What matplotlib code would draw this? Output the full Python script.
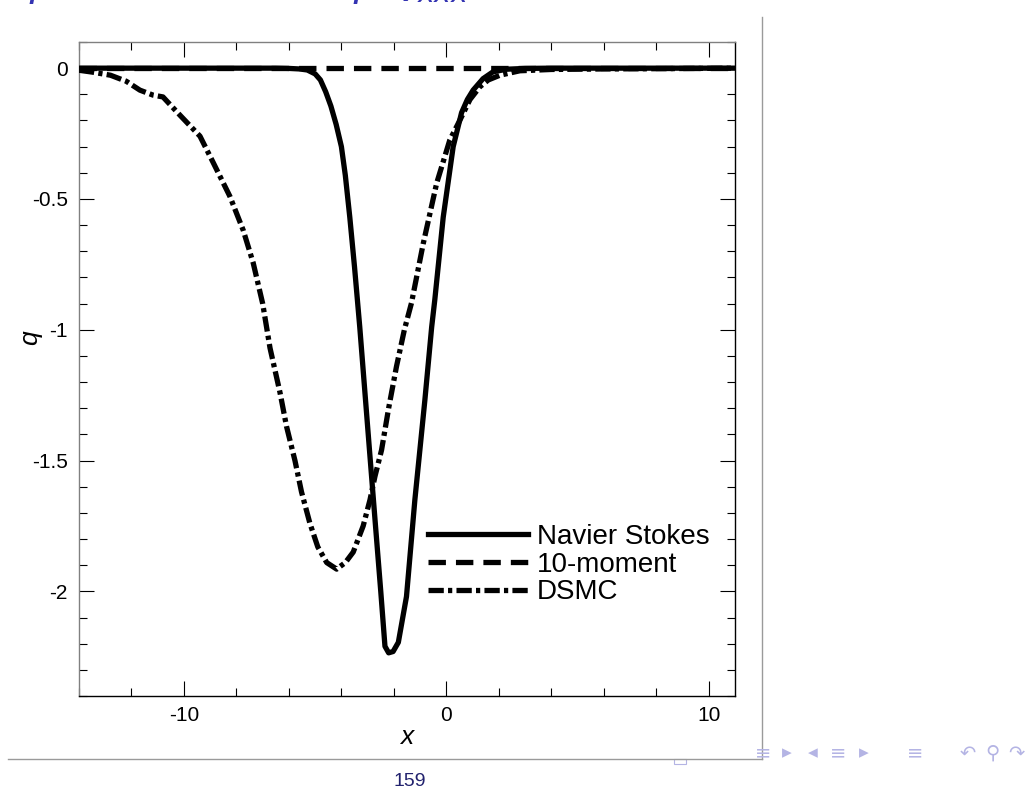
import matplotlib
matplotlib.use("Agg")
import matplotlib.pyplot as plt
from matplotlib.ticker import MultipleLocator, FixedLocator, FixedFormatter
from matplotlib.lines import Line2D
from matplotlib.patches import Rectangle

plt.rcParams['axes.unicode_minus'] = False

# ---------------- data ----------------
ns_x = [-14, -8, -6.5, -6.0, -5.6, -5.3, -5.0, -4.8, -4.6, -4.4, -4.2, -4.0,
        -3.85, -3.68, -3.50, -3.30, -2.93, -2.70, -2.50, -2.34, -2.20, -2.03,
        -1.83, -1.52, -1.20, -1.01, -0.82, -0.56, -0.44, -0.12, 0.26, 0.58,
        0.80, 1.02, 1.40, 1.78, 2.3, 3.0, 4.0, 11]
ns_q = [0, 0, 0, -0.001, -0.003, -0.007, -0.022, -0.045, -0.090, -0.145, -0.215, -0.30,
        -0.41, -0.57, -0.76, -0.99, -1.46, -1.75, -2.00, -2.21, -2.235, -2.23,
        -2.195, -2.02, -1.65, -1.46, -1.27, -0.99, -0.885, -0.57, -0.30, -0.17,
        -0.12, -0.084, -0.040, -0.014, -0.004, -0.001, 0, 0]

tm_x = [-14, -6, -2, 2, 11]
tm_q = [0, 0, 0, 0, 0]

ds_x = [-14, -13.5, -12.8, -12.2, -11.68, -11.18, -10.8, -10.15, -9.39, -8.89,
        -8.25, -7.74, -7.36, -7.0, -6.72, -6.34, -6.09, -5.77, -5.52, -5.2,
        -4.9, -4.56, -4.18, -4.12, -3.85, -3.55, -3.17, -2.91, -2.72, -2.47,
        -2.2, -1.9, -1.6, -1.33, -0.88, -0.37, 0.13, 0.51, 0.9, 1.28, 1.6,
        2.04, 2.8, 4.0, 6.0, 8.0, 11]
ds_q = [-0.008, -0.015, -0.027, -0.05, -0.084, -0.103, -0.11, -0.18, -0.26, -0.36,
        -0.49, -0.62, -0.745, -0.90, -1.07, -1.24, -1.37, -1.50, -1.62, -1.74,
        -1.83, -1.89, -1.915, -1.91, -1.89, -1.85, -1.75, -1.65, -1.56, -1.46,
        -1.30, -1.14, -1.00, -0.898, -0.67, -0.44, -0.275, -0.20, -0.12, -0.071,
        -0.045, -0.027, -0.01, -0.005, -0.003, -0.002, 0]

series_labels = ["Navier Stokes", "10-moment", "DSMC"]
xtick_vals = [-10, 0, 10]
xtick_labels = ["-10", "0", "10"]
ytick_vals = [0, -0.5, -1, -1.5, -2]
ytick_labels = ["0", "-0.5", "-1", "-1.5", "-2"]
page_number = "159"

# ---------------- figure ----------------
W, H = 1029, 792
fig = plt.figure(figsize=(W / 100, H / 100), dpi=100)

def px(x, y):
    return x / W, 1 - y / H

L, R, T, B = 79, 735, 42, 696
ax = fig.add_axes([L / W, 1 - B / H, (R - L) / W, (B - T) / H])

lw = 3.8
ax.plot(tm_x, tm_q, color='black', lw=lw, linestyle=(0, (3.3, 1.9)),
        label=series_labels[1], zorder=2)
ax.plot(ds_x, ds_q, color='black', lw=lw, linestyle=(0, (2.9, 0.8, 0.8, 0.8)),
        label=series_labels[2], zorder=3)
ax.plot(ns_x, ns_q, color='black', lw=lw, linestyle='-',
        label=series_labels[0], zorder=4)

ax.set_xlim(-14, 11)
ax.set_ylim(-2.4, 0.1)

ax.xaxis.set_major_locator(FixedLocator(xtick_vals))
ax.xaxis.set_major_formatter(FixedFormatter(xtick_labels))
ax.xaxis.set_minor_locator(MultipleLocator(2))
ax.yaxis.set_major_locator(FixedLocator(ytick_vals))
ax.yaxis.set_major_formatter(FixedFormatter(ytick_labels))
ax.yaxis.set_minor_locator(MultipleLocator(0.1))

ax.tick_params(which='both', direction='in', top=True, right=True,
               labelsize=15, width=0.8, colors='black')
ax.tick_params(which='major', length=10.5, pad=7)
ax.tick_params(which='minor', length=5.8)
ax.tick_params(axis='y', which='major', pad=8)
for t in ax.get_xticklabels() + ax.get_yticklabels():
    t.set_fontfamily(['Liberation Sans', 'DejaVu Sans'])

for s in ['bottom', 'right']:
    ax.spines[s].set_color('black')
    ax.spines[s].set_linewidth(1.0)
for s in ['left', 'top']:
    ax.spines[s].set_color('#808080')
    ax.spines[s].set_linewidth(1.0)

ax.set_xlabel("x", fontsize=19, fontstyle='italic',
              family=['Liberation Sans', 'DejaVu Sans'])
ax.set_ylabel("q", fontsize=19, fontstyle='italic',
              family=['Liberation Sans', 'DejaVu Sans'])
ax.xaxis.set_label_coords(0.5, -(737 - B) / (B - T))
ax.yaxis.set_label_coords((30 - L) / (R - L), (B - 338) / (B - T))
ax.yaxis.label.set_verticalalignment('center')
ax.xaxis.label.set_verticalalignment('center')

handles, labels = ax.get_legend_handles_labels()
order = [2, 0, 1]
leg = ax.legend([handles[i] for i in order], [labels[i] for i in order],
                loc='upper left',
                bbox_to_anchor=((428 - L) / (R - L), (B - 524) / (B - T)),
                frameon=False, borderpad=0, borderaxespad=0,
                handlelength=3.6, handletextpad=0.32, labelspacing=0.06,
                prop={'family': ['Liberation Sans', 'DejaVu Sans'], 'size': 20})

# ---------------- slide decorations ----------------
blue = '#3333b2'
fig.text(*px(14, -4), "$q$", color=blue, fontsize=29, va='baseline', ha='left')
fig.text(*px(338, -4), r"$q\;\;Q_{xxx}$", color=blue, fontsize=29,
         va='baseline', ha='left')

grey = '#9a9a9a'
fig.add_artist(Line2D([762 / W, 762 / W], [1 - 17 / H, 1 - 759 / H],
                      color=grey, lw=1.0))
fig.add_artist(Line2D([8 / W, 762 / W], [1 - 759 / H, 1 - 759 / H],
                      color=grey, lw=1.0))

fig.text(*px(410, 781), page_number, color='#22226e', fontsize=14,
         ha='center', va='center', family=['Liberation Sans', 'DejaVu Sans'])

nav = '#b4b4e4'
fig.add_artist(Rectangle(px(674, 764), 12 / W, 5 / H, fill=False,
                         edgecolor=nav, lw=0.8))
nav_items = [(763, "≡"), (787, "▸"), (813, "◂"), (838, "≡"), (864, "▸"),
             (915, "≡"), (968, "↶"), (992, "⚲"), (1016, "↷")]
for xp, ch in nav_items:
    fig.text(*px(xp, 753), ch, color=nav, fontsize=14, ha='center',
             va='center', family=['DejaVu Sans'])

fig.savefig("out.png", dpi=100)
